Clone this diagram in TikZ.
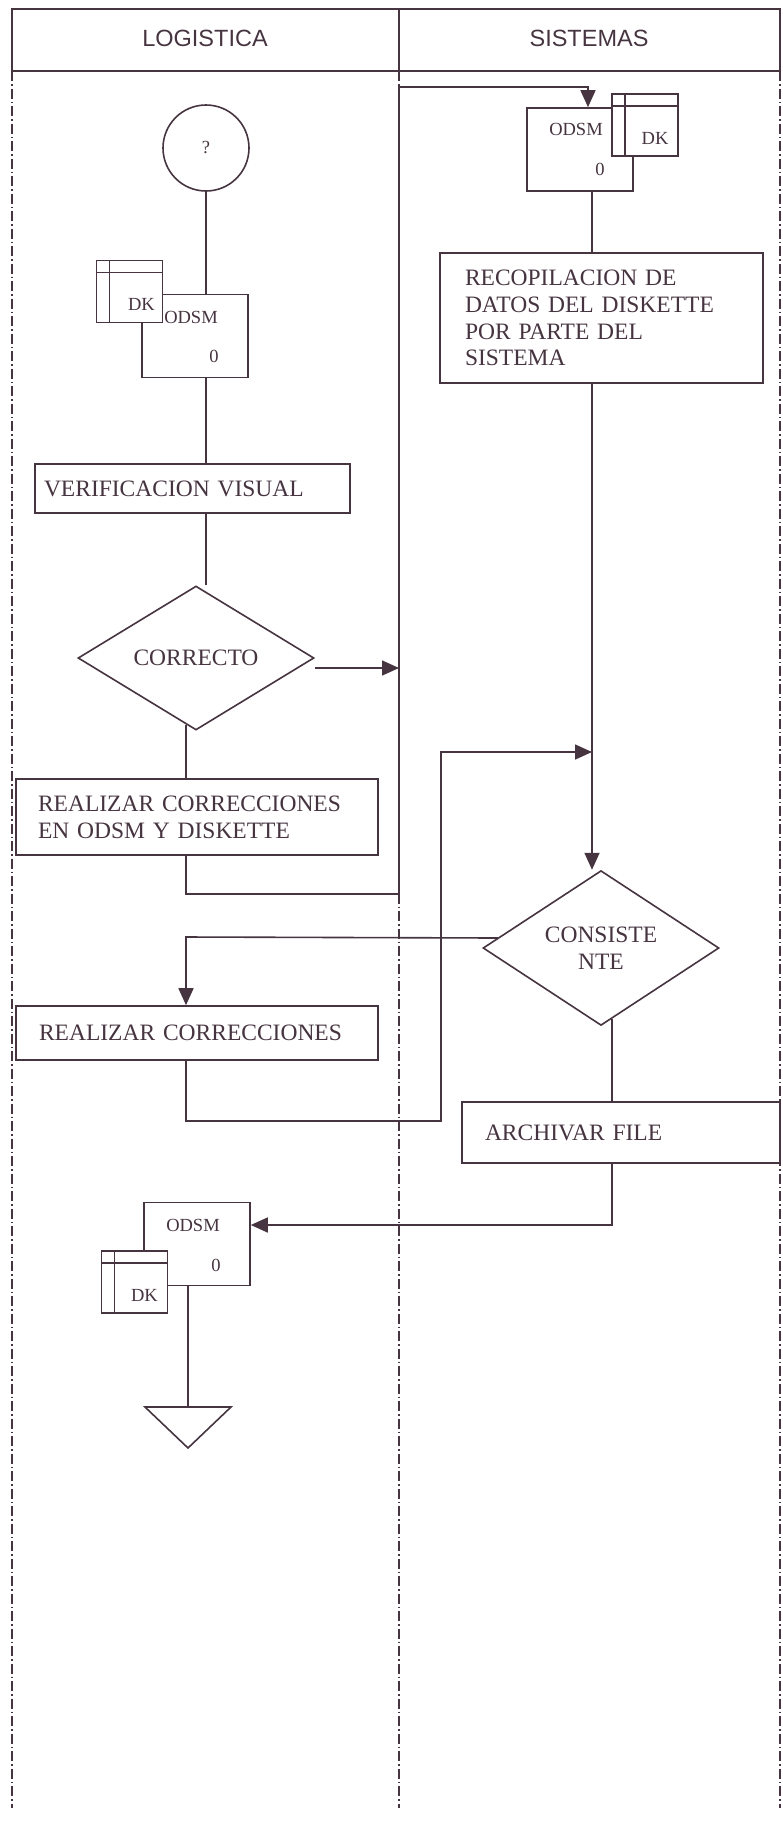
\documentclass[tikz,border=0pt]{standalone}
\usepackage{fontspec}
\setmainfont{Liberation Serif}
\setsansfont{Liberation Sans}
\usetikzlibrary{shapes.geometric,arrows.meta}
\definecolor{tinta}{RGB}{70,52,64}

\begin{document}
\begin{tikzpicture}[x=1pt,y=-1pt,line width=1.6pt,color=tinta,
	caja/.style={draw,fill=white,rectangle,inner ysep=0pt,align=left,font=\fontsize{23.5}{26.7}\selectfont},
	rombo/.style={draw,fill=white,diamond,inner sep=0pt,minimum width=236pt,minimum height=144pt,align=center,font=\fontsize{23.5}{27}\selectfont},
	doc/.style={draw,fill=white,rectangle,minimum width=106pt,minimum height=83pt,inner sep=0pt},
	disco/.style={draw,fill=white,rectangle,minimum width=66pt,minimum height=62pt,inner sep=0pt,
		path picture={\draw ([xshift=13pt]path picture bounding box.north west) -- ([xshift=13pt]path picture bounding box.south west);
			\draw ([yshift=-12pt]path picture bounding box.north west) -- ([yshift=-12pt]path picture bounding box.north east);}},
	chico/.style={font=\fontsize{18.5}{20}\selectfont},
	flecha/.style={-{Triangle[length=17pt,width=15pt]}},
	carril/.style={line width=1.1pt,dash pattern=on 10pt off 3pt on 1.5pt off 3pt}]
	\useasboundingbox (0,0) rectangle (782,1829);
	% lanes
	\draw[carril] (12,71) -- (12,1808);
	\draw[carril] (399,71) -- (399,1808);
	\draw[carril] (780,71) -- (780,1808);
	\draw (12,9) rectangle (780,71);
	\draw (399,9) -- (399,71);
	\node[font=\sffamily\fontsize{23.5}{26}\selectfont] (logistica) at (205,38) {LOGISTICA};
	\node[font=\sffamily\fontsize{23.5}{26}\selectfont] (sistemas) at (589,38) {SISTEMAS};
	% logistica, top
	\node[draw,circle,minimum size=86pt,inner sep=0pt,chico] (inicio) at (206,148) {?};
	\node[doc,label={[chico,xshift=-4pt,yshift=19pt]center:ODSM},label={[chico,xshift=19pt,yshift=-20pt]center:0}] (odsmA) at (195,336) {};
	\node[disco,label={[chico,xshift=12pt,yshift=-13pt]center:DK}] (dkA) at (129.5,291.5) {};
	\node[caja,text width=297pt,inner xsep=9pt,minimum height=49pt] (verif) at (192.5,488.5) {VERIFICACION VISUAL};
	\node[rombo] (correcto) at (196,658) {CORRECTO};
	\node[caja,text width=318pt,inner xsep=22pt,minimum height=76pt] (corr1) at (197,817) {REALIZAR CORRECCIONES\\EN ODSM Y DISKETTE};
	\node[caja,text width=316pt,inner xsep=23pt,minimum height=54pt] (corr2) at (197,1033) {REALIZAR CORRECCIONES};
	% sistemas
	\node[doc,label={[chico,xshift=-4pt,yshift=20pt]center:ODSM},label={[chico,xshift=20pt,yshift=-20pt]center:0}] (odsmB) at (580,149.5) {};
	\node[disco,label={[chico,xshift=10pt,yshift=-13pt]center:DK}] (dkB) at (645,125) {};
	\node[caja,text width=273pt,inner xsep=25pt,minimum height=130pt] (recop) at (601.5,318) {RECOPILACION DE\\DATOS DEL DISKETTE\\POR PARTE DEL\\SISTEMA};
	\node[rombo] (consist) at (601,948) {CONSISTE\\NTE};
	\node[caja,text width=272pt,inner xsep=23pt,minimum height=61pt] (archivo) at (621,1132.5) {ARCHIVAR FILE};
	% logistica, bottom
	\node[doc,label={[chico,xshift=-4pt,yshift=19pt]center:ODSM},label={[chico,xshift=19pt,yshift=-21pt]center:0}] (odsmC) at (197,1244) {};
	\node[disco,label={[chico,xshift=10pt,yshift=-13pt]center:DK}] (dkC) at (134.5,1282) {};
	\coordinate (fin) at (188,1407);
	\draw (145,1407) -- (231,1407) -- (188,1448) -- cycle;
	% bends
	\coordinate (div1) at (399,668);
	\coordinate (b1) at (186,894);
	\coordinate (s1) at (399,87);
	\coordinate (s2) at (588,87);
	\coordinate (junta) at (592,752);
	\coordinate (b2) at (186,1121);
	\coordinate (s3) at (441,752);
	\coordinate (b3) at (186,937);
	\coordinate (b4) at (612,1225);
	% connectors
	\draw (inicio.south) -- (inicio.south |- odsmA.north);
	\draw (inicio.south |- odsmA.south) -- (inicio.south |- verif.north);
	\draw (inicio.south |- verif.south) -- (inicio.south |- correcto.north);
	\draw[flecha] (correcto.east |- div1) -- (div1);
	\draw ([xshift=-10pt,yshift=6pt]correcto.south) -- (b1 |- corr1.north);
	\draw[flecha] (b1 |- corr1.south) -- (b1) -- (b1 -| s1) -- (s1) -- (s2) -- (s2 |- odsmB.north);
	\draw ([xshift=12pt]odsmB.south) -- ([xshift=12pt]odsmB.south |- recop.north);
	\draw[flecha] (junta |- recop.south) -- (junta |- consist.north);
	\draw[flecha] (b2 |- corr2.south) -- (b2) -- (b2 -| s3) -- (s3) -- (junta);
	\draw[flecha] ([xshift=16pt,yshift=10pt]consist.west) -- (b3) -- (b3 |- corr2.north);
	\draw ([xshift=11pt,yshift=7pt]consist.south) -- (b4 |- archivo.north);
	\draw[flecha] (b4 |- archivo.south) -- (b4) -- (b4 -| odsmC.east);
	\draw (fin |- odsmC.south) -- (fin);
\end{tikzpicture}
\end{document}
